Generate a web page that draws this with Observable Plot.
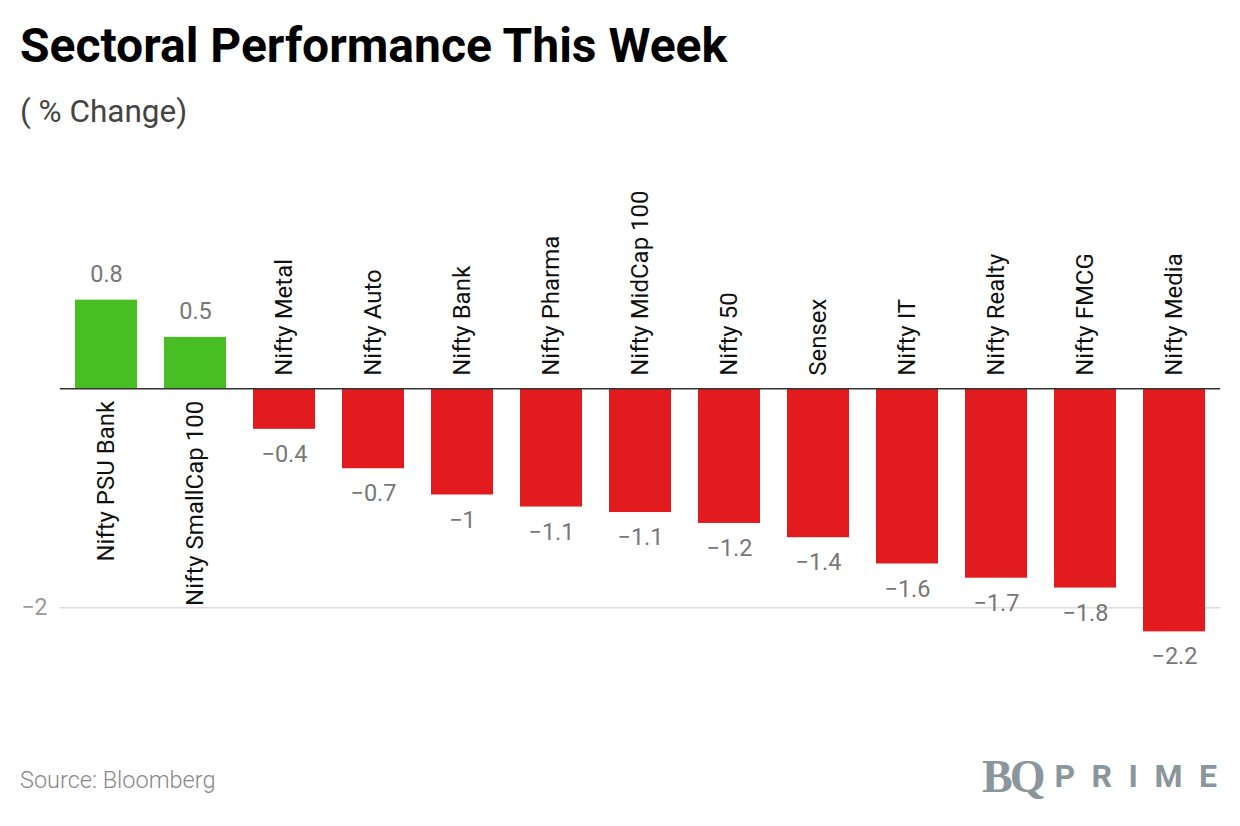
<!DOCTYPE html>
<html>
<head>
<meta charset="utf-8">
<script src="https://cdn.jsdelivr.net/npm/d3@7"></script>
<script src="https://cdn.jsdelivr.net/npm/@observablehq/plot@0.6"></script>
<style>
  html, body { margin: 0; padding: 0; background: #fff; }
  body { width: 1240px; height: 826px; position: relative; overflow: hidden; font-family: Roboto, "Noto Sans", sans-serif; }
  #title { position: absolute; left: 20px; top: 17px; margin: 0; font-size: 48px; font-weight: 700; color: #000; letter-spacing: 0; line-height: 1.2; }
  #subtitle { position: absolute; left: 20px; top: 93px; margin: 0; font-size: 31.5px; font-weight: 400; color: #444; line-height: 1.2; }
  #chart { position: absolute; left: 0; top: 150px; }
  #source { position: absolute; left: 20px; top: 766px; font-size: 23.5px; font-weight: 300; color: #888; }
  #logo { position: absolute; left: 982px; top: 750px; color: #8a969c; white-space: nowrap; }
  #logo .bq { font-family: "Liberation Serif", "DejaVu Serif", serif; font-size: 46px; font-weight: 700; letter-spacing: -3px; }
  #logo .prime { font-family: Roboto, sans-serif; font-size: 32px; font-weight: 700; letter-spacing: 16.5px; margin-left: 12px; vertical-align: 5px; }
</style>
</head>
<body>
<h1 id="title">Sectoral Performance This Week</h1>
<div id="subtitle">( % Change)</div>
<div id="chart"></div>
<div id="source">Source: Bloomberg</div>
<div id="logo"><span class="bq">BQ</span><span class="prime">PRIME</span></div>
<script>
const sectors = ["Nifty PSU Bank", "Nifty SmallCap 100", "Nifty Metal", "Nifty Auto", "Nifty Bank", "Nifty Pharma", "Nifty MidCap 100", "Nifty 50", "Sensex", "Nifty IT", "Nifty Realty", "Nifty FMCG", "Nifty Media"];
const changes = [0.81, 0.47, -0.37, -0.73, -0.97, -1.08, -1.13, -1.23, -1.36, -1.6, -1.73, -1.82, -2.22];
const yTicks = [-2];

const data = sectors.map((s, i) => ({sector: s, value: changes[i]}));
const pos = data.filter(d => d.value >= 0);
const neg = data.filter(d => d.value < 0);
const fmt = d3.format(".1~f");

const chart = Plot.plot({
  width: 1240,
  height: 560,
  marginLeft: 60,
  marginRight: 20,
  marginTop: 96,
  marginBottom: 48,
  style: {fontFamily: "Roboto, sans-serif", background: "transparent", overflow: "visible"},
  x: {domain: sectors, paddingInner: 0.3, paddingOuter: 0.15, axis: null},
  y: {domain: [-2.5, 1.3], axis: null},
  marks: [
    Plot.gridY(yTicks, {stroke: "#ddd", strokeOpacity: 1, strokeWidth: 1.5}),
    Plot.axisY(yTicks, {tickSize: 0, tickPadding: 13, fontSize: 23, fill: "#999", tickFormat: d => d3.format("")(d), label: null}),
    Plot.barY(data, {x: "sector", y: "value", fill: d => d.value >= 0 ? "#46be24" : "#e21b1e"}),
    Plot.ruleY([0], {stroke: "#333", strokeWidth: 1.5}),
    Plot.text(pos, {x: "sector", y: "value", text: d => fmt(d.value), dy: -26, fontSize: 23.5, fill: "#777"}),
    Plot.text(neg, {x: "sector", y: "value", text: d => fmt(d.value), dy: 25, fontSize: 23.5, fill: "#777"}),
    Plot.text(neg, {x: "sector", y: () => 0, text: "sector", rotate: -90, textAnchor: "start", dy: -13, fontSize: 24, fill: "#111"}),
    Plot.text(pos, {x: "sector", y: () => 0, text: "sector", rotate: -90, textAnchor: "end", dy: 12, fontSize: 24, fill: "#111"})
  ]
});
document.getElementById("chart").appendChild(chart);
</script>
</body>
</html>
